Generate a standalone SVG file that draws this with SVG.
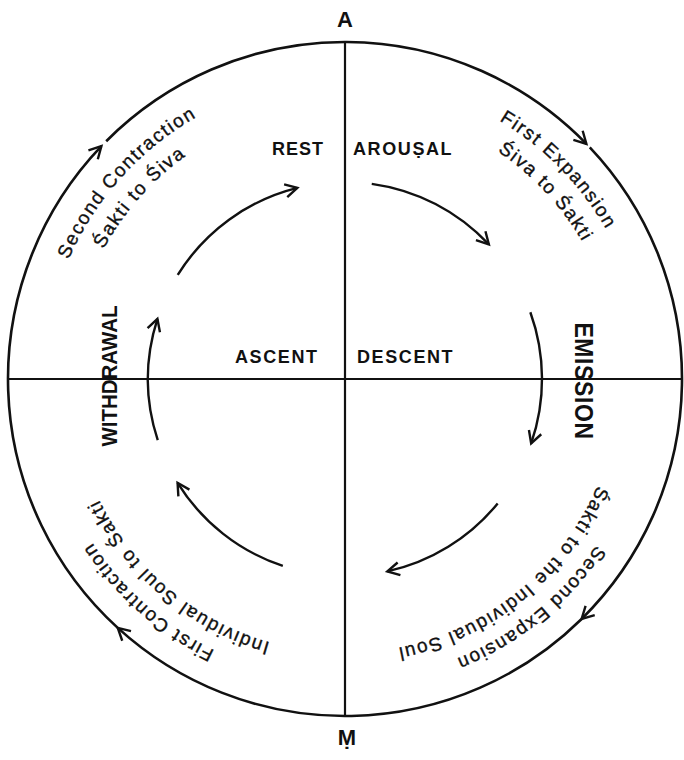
<svg xmlns="http://www.w3.org/2000/svg" width="684" height="760" viewBox="0 0 684 760">
<style>
  .ln{fill:none;stroke:#111;stroke-width:2.2}
  .ring{fill:none;stroke:#111;stroke-width:2.6;marker-end:url(#chev)}
  .arc{fill:none;stroke:#111;stroke-width:2.4;marker-end:url(#chev)}
  .lbl{font-family:"Liberation Sans","DejaVu Sans",Arial,sans-serif;font-weight:bold;font-size:18px;fill:#111}
  .big{font-family:"Liberation Sans","DejaVu Sans",Arial,sans-serif;font-weight:bold;font-size:22px;fill:#111}
  .cur{font-family:"Liberation Sans","DejaVu Sans",Arial,sans-serif;font-size:19px;letter-spacing:1.6px;fill:#111;stroke:#111;stroke-width:0.35}
</style>
<defs>
  <marker id="chev" viewBox="-15 -10 18 20" refX="0" refY="0" markerWidth="18" markerHeight="20" markerUnits="userSpaceOnUse" orient="auto" overflow="visible">
    <path d="M-12,-6.5 L0,0 L-12,6.5" fill="none" stroke="#111" stroke-width="2.4"/>
  </marker>
  <path id="pTL1" d="M58.73 472.01 A301 301 0 0 1 407.58 84.58"/>
  <path id="pTL2" d="M85.16 465.94 A274 274 0 0 1 399.63 110.50"/>
  <path id="pTR1" d="M270.14 87.46 A301 301 0 0 1 634.91 459.94"/>
  <path id="pTR2" d="M283.36 112.02 A274 274 0 0 1 607.03 459.11"/>
  <path id="pBR1" d="M642.29 331.91 A301 301 0 0 1 237.13 660.01"/>
  <path id="pBR2" d="M615.63 336.14 A274 274 0 0 1 246.81 634.80"/>
  <path id="pBL1" d="M440.51 664.44 A301 301 0 0 1 50.04 318.99"/>
  <path id="pBL2" d="M438.71 636.47 A274 274 0 0 1 75.16 331.42"/>
</defs>

<g id="axes">
  <line class="ln" x1="345" y1="42" x2="345" y2="716"/>
  <line class="ln" x1="8" y1="379" x2="682" y2="379"/>
</g>

<g id="connectors">
  <g id="outer-ring">
    <path class="ring" d="M589.79 147.38 A337 337 0 0 1 581.62 618.95"/>
    <path class="ring" d="M581.62 618.95 A337 337 0 0 1 117.76 627.86"/>
    <path class="ring" d="M117.76 627.86 A337 337 0 0 1 101.41 146.12"/>
    <path class="ring" d="M106.20 141.22 A337 337 0 0 1 586.39 143.84"/>
  </g>
  <g id="inner-cycle">
    <path class="arc" d="M177.74 274.90 A197 197 0 0 1 297.34 187.85"/>
    <path class="arc" d="M371.74 183.82 A197 197 0 0 1 488.88 244.44"/>
    <path class="arc" d="M530.35 312.27 A197 197 0 0 1 531.16 443.46"/>
    <path class="arc" d="M497.66 503.51 A197 197 0 0 1 387.30 571.40"/>
    <path class="arc" d="M282.82 565.93 A197 197 0 0 1 177.57 482.81"/>
    <path class="arc" d="M157.76 440.20 A197 197 0 0 1 157.43 318.78"/>
  </g>
</g>

<g id="pole-A"><text class="big" x="345" y="27" text-anchor="middle">A</text></g>
<g id="pole-M"><text class="big" x="347" y="745" text-anchor="middle">Ṃ</text></g>

<g id="rest"><text class="lbl" x="272" y="155" style="letter-spacing:1px">REST</text></g>
<g id="arousal"><text class="lbl" x="353" y="155" style="letter-spacing:1.6px">AROUṢAL</text></g>
<g id="ascent"><text class="lbl" x="235" y="363" style="letter-spacing:1.6px">ASCENT</text></g>
<g id="descent"><text class="lbl" x="357" y="363" style="letter-spacing:1.6px">DESCENT</text></g>
<g id="emission"><text class="lbl" transform="translate(575,381) rotate(90) scale(1,1.12)" text-anchor="middle" style="font-size:23px;letter-spacing:0.6px">EMISSION</text></g>
<g id="withdrawal"><text class="lbl" transform="translate(117,376) rotate(-90) scale(1,1.1)" text-anchor="middle" style="font-size:20.5px">WITHDRAWAL</text></g>

<g id="second-contraction">
  <text class="cur"><textPath href="#pTL1" startOffset="50%" text-anchor="middle">Second  Contraction</textPath></text>
  <text class="cur"><textPath href="#pTL2" startOffset="50%" text-anchor="middle">Śakti to Śiva</textPath></text>
</g>
<g id="first-expansion">
  <text class="cur"><textPath href="#pTR1" startOffset="50%" text-anchor="middle">First  Expansion</textPath></text>
  <text class="cur"><textPath href="#pTR2" startOffset="50%" text-anchor="middle">Śiva to Śakti</textPath></text>
</g>
<g id="second-expansion">
  <text class="cur"><textPath href="#pBR1" startOffset="50%" text-anchor="middle">Second  Expansion</textPath></text>
  <text class="cur"><textPath href="#pBR2" startOffset="50%" text-anchor="middle">Śakti to the Individual Soul</textPath></text>
</g>
<g id="first-contraction">
  <text class="cur"><textPath href="#pBL1" startOffset="50%" text-anchor="middle">First  Contraction</textPath></text>
  <text class="cur"><textPath href="#pBL2" startOffset="50%" text-anchor="middle">Individual Soul to Śakti</textPath></text>
</g>
</svg>
